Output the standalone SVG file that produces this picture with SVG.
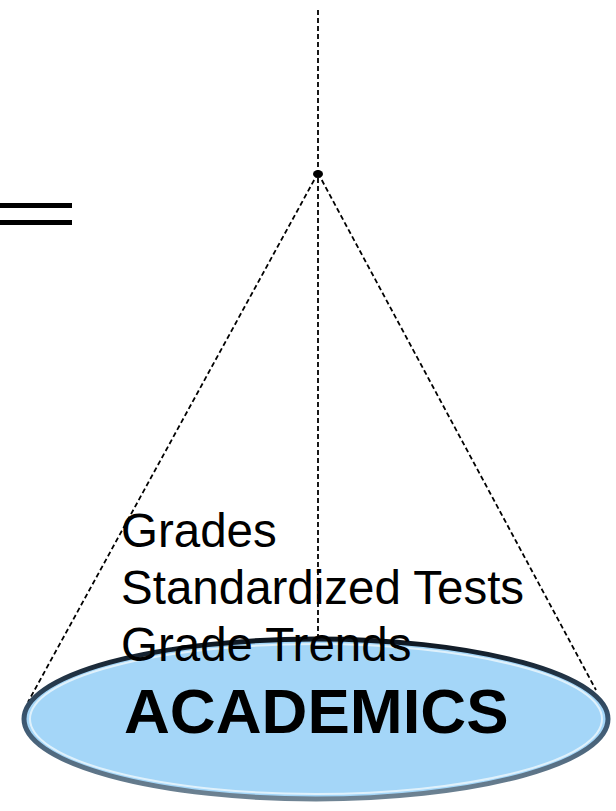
<svg xmlns="http://www.w3.org/2000/svg" width="616" height="811" viewBox="0 0 616 811">
<defs>
<style>
.dash{stroke:#000;stroke-width:1.8;stroke-dasharray:5 3;fill:none}
.t{font-family:"Liberation Sans",Arial,sans-serif;font-size:47.5px;fill:#000}
.b{font-family:"Liberation Sans",Arial,sans-serif;font-size:63.5px;font-weight:bold;fill:#000}
</style>
<linearGradient id="rim" x1="0" y1="0" x2="0" y2="1">
<stop offset="0" stop-color="#0d1620"/>
<stop offset="0.5" stop-color="#3a5670"/>
<stop offset="1" stop-color="#6f8494"/>
</linearGradient>
</defs>
<g id="equals">
<rect x="0" y="203" width="72" height="5" fill="#000"/>
<rect x="0" y="220" width="72" height="5" fill="#000"/>
</g>
<g id="connectors">
<line class="dash" x1="318" y1="10" x2="318" y2="640"/>
<line class="dash" x1="318" y1="173" x2="28" y2="702"/>
<line class="dash" x1="318" y1="173" x2="596" y2="690"/>
<ellipse cx="318" cy="174" rx="5" ry="4" fill="#000"/>
</g>
<g id="academics">
<ellipse cx="316" cy="719" rx="292" ry="80" fill="#a4d6f8" stroke="url(#rim)" stroke-width="5"/>
<ellipse cx="316" cy="719" rx="286" ry="75" fill="none" stroke="#e6f4fc" stroke-width="2" opacity="0.9"/>
<text class="b" x="124" y="733">ACADEMICS</text>
</g>
<g id="labels">
<text class="t" x="121" y="547">Grades</text>
<text class="t" x="121" y="604">Standardized Tests</text>
<text class="t" x="121" y="661">Grade Trends</text>
</g>
</svg>
